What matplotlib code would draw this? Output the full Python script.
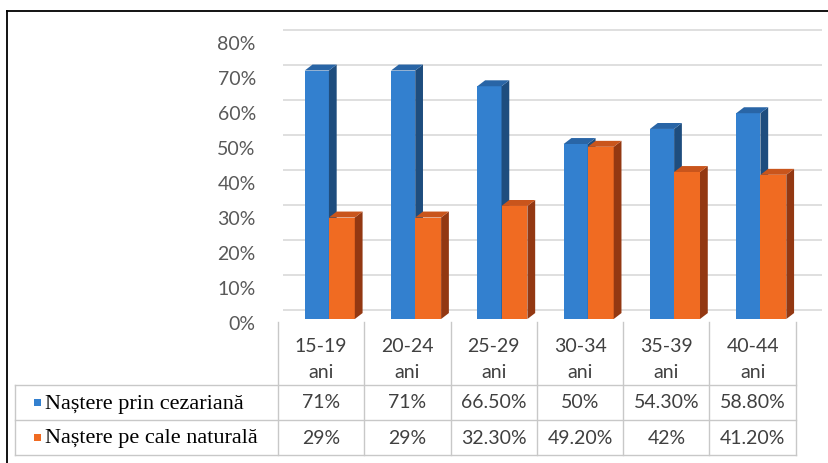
import matplotlib
matplotlib.use("Agg")
import matplotlib.pyplot as plt
from matplotlib.patches import Polygon
from matplotlib.lines import Line2D
from matplotlib.transforms import ScaledTranslation

# ---- data ----
categories = ["15-19 ani", "20-24 ani", "25-29 ani", "30-34 ani", "35-39 ani", "40-44 ani"]
series_names = ["Naștere prin cezariană", "Naștere pe cale naturală"]
cezariana = [0.71, 0.71, 0.665, 0.50, 0.543, 0.588]
naturala = [0.29, 0.29, 0.323, 0.492, 0.42, 0.412]
y_ticks = [0.0, 0.1, 0.2, 0.3, 0.4, 0.5, 0.6, 0.7, 0.8]
y_tick_labels = ["0%", "10%", "20%", "30%", "40%", "50%", "60%", "70%", "80%"]

W, H = 829, 463
fig = plt.figure(figsize=(W / 100, H / 100), dpi=100)
fig.patch.set_facecolor("white")

def fx(px):
    return px / W

def fy(py):
    return 1 - py / H

# column geometry (pixels)
x0, colw = 278, 86.3
n = len(categories)
right_px = 822
ax_left, ax_right = x0, right_px
y0_px, ytop_px = 319, 39
ax = fig.add_axes([fx(ax_left), fy(y0_px), fx(ax_right - ax_left), fy(ytop_px) - fy(y0_px)])
ax.set_xlim(-0.5, -0.5 + (ax_right - ax_left) / colw)
ax.set_ylim(0, 0.8)
for s in ax.spines.values():
    s.set_visible(False)
ax.set_xticks([])
ax.patch.set_alpha(0)

# back-wall gridlines (shifted up for the 3D look)
up = ScaledTranslation(0, 9 / 100, fig.dpi_scale_trans)
ax.hlines(y_ticks, 0.01, 1.0, transform=ax.get_yaxis_transform() + up,
          colors="#D9D9D9", lw=1.2, zorder=0, clip_on=False)

ax.set_yticks(y_ticks)
ax.set_yticklabels(y_tick_labels, fontsize=14, color="#595959", family=["Lato", "DejaVu Sans"])
ax.tick_params(axis="y", length=0, pad=16)
down = ScaledTranslation(0, -4 / 100, fig.dpi_scale_trans)
for lab in ax.get_yticklabels():
    lab.set_transform(lab.get_transform() + down)

colors = [
    dict(front="#3380CF", side="#1E4D7E", top="#2965A6"),
    dict(front="#F06B22", side="#933812", top="#C9551C"),
]
offsets = [-0.05, 0.24]
widths = [0.28, 0.30]
dx, dy = 0.09, 0.017

def bar3d(xc, v, w, c, z):
    ax.bar(xc, v, width=w, color=c["front"], zorder=z, linewidth=0)
    xl, xr = xc - w / 2, xc + w / 2
    side = Polygon([(xr, 0), (xr, v), (xr + dx, v + dy), (xr + dx, dy)],
                   closed=True, facecolor=c["side"], edgecolor="none", zorder=z)
    top = Polygon([(xl, v), (xr, v), (xr + dx, v + dy), (xl + dx, v + dy)],
                  closed=True, facecolor=c["top"], edgecolor="none", zorder=z)
    ax.add_patch(side)
    ax.add_patch(top)

for i in range(n):
    bar3d(i + offsets[0], cezariana[i], widths[0], colors[0], 2 + i * 2)
    bar3d(i + offsets[1], naturala[i], widths[1], colors[1], 3 + i * 2)

# ---- data table ----
tab = fig.add_axes([0, 0, 1, 1])
tab.set_xlim(0, W)
tab.set_ylim(H, 0)
tab.axis("off")
tab.patch.set_alpha(0)

line_c = "#C8C8C8"
row_y = [385, 420, 455]
tab_left = 15
table_right = x0 + n * colw
for yy in row_y:
    tab.plot([tab_left, table_right], [yy, yy], color=line_c, lw=1)
for i in range(n + 1):
    xx = x0 + i * colw
    tab.plot([xx, xx], [322, 455], color=line_c, lw=1)
tab.plot([tab_left, tab_left], [385, 455], color=line_c, lw=1)

def fmt(v):
    p = round(v * 100, 2)
    if abs(p - round(p)) < 1e-9:
        return f"{int(round(p))}%"
    return f"{p:.2f}%"

num_font = dict(fontsize=14, color="#404040", family=["Lato", "DejaVu Sans"], ha="center", va="center")
for i, cat in enumerate(categories):
    xc = x0 + (i + 0.5) * colw
    a, b = cat.split(" ")
    tab.text(xc, 347, a, **num_font)
    tab.text(xc, 372, b, **num_font)
    tab.text(xc, 403, fmt(cezariana[i]), **num_font)
    tab.text(xc, 438, fmt(naturala[i]), **num_font)

for k, (name, c) in enumerate(zip(series_names, colors)):
    yy = 403 + 35 * k
    tab.add_patch(Polygon([(34, yy - 4), (41, yy - 4), (41, yy + 3), (34, yy + 3)],
                          closed=True, facecolor=c["front"], edgecolor="none"))
    tab.text(45, yy + 1, name, fontsize=16, color="black",
             family="Liberation Serif", ha="left", va="center")

# outer frame
fig.add_artist(Line2D([fx(7), fx(W)], [fy(11), fy(11)], color="black", lw=1.3))
fig.add_artist(Line2D([fx(7), fx(7)], [fy(11), fy(H)], color="black", lw=1.3))

fig.savefig("out.png", dpi=100, facecolor="white")
